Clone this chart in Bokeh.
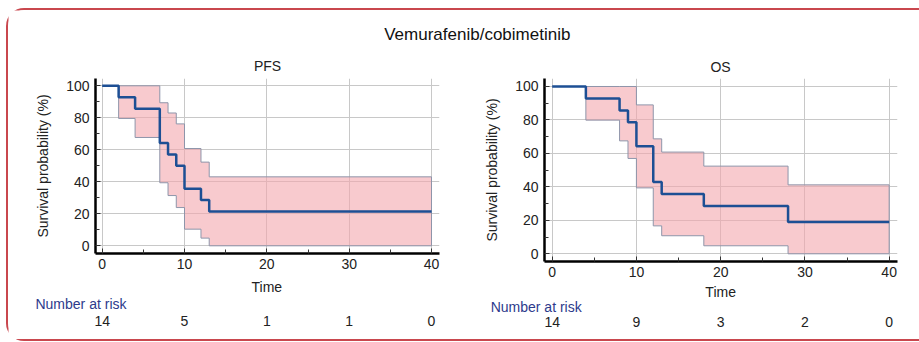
from bokeh.plotting import figure
from bokeh.models import Range1d, FixedTicker, Label
from bokeh.layouts import column, row
from bokeh.embed import file_html
from bokeh.resources import INLINE

# ---------------- data ----------------
main_title = "Vemurafenib/cobimetinib"
t_end = 40

pfs_title = "PFS"
pfs_time = [0, 2, 4, 7, 8, 9, 10, 12, 13]
pfs_surv = [100, 92.9, 85.7, 64.3, 57.1, 50.0, 35.7, 28.6, 21.4]
pfs_ci_time = [2, 4, 7, 8, 9, 10, 12, 13]
pfs_ci_upper = [100, 100, 89.4, 83.0, 76.2, 60.8, 52.3, 43.1]
pfs_ci_lower = [79.6, 67.7, 39.4, 31.4, 23.9, 10.4, 4.8, 0]
pfs_risk = ["14", "5", "1", "1", "0"]

os_title = "OS"
os_time = [0, 4, 8, 9, 10, 12, 13, 18, 28]
os_surv = [100, 92.9, 85.7, 78.6, 64.3, 42.9, 35.7, 28.6, 19.0]
os_ci_time = [4, 8, 9, 10, 12, 13, 18, 28]
os_ci_upper = [100, 100, 100, 89.0, 68.7, 60.8, 52.4, 41.2]
os_ci_lower = [79.9, 67.5, 57.0, 39.4, 16.7, 10.8, 4.8, 0]
os_risk = ["14", "9", "3", "2", "0"]

risk_times = [0, 10, 20, 30, 40]
x_ticks = [0, 10, 20, 30, 40]
x_minor = [5, 15, 25, 35]
y_ticks = [0, 20, 40, 60, 80, 100]
y_minor = [10, 30, 50, 70, 90]

FONT = "Liberation Sans"
CURVE = "#1d4f94"
BAND_FILL = "#f4a6ad"
BAND_LINE = "#8e95aa"
NAVY = "#2d3a8c"
TXT = "#222222"


def step_xy(t, v, end):
    xs, ys = [], []
    for i in range(len(t)):
        x1 = t[i + 1] if i + 1 < len(t) else end
        xs += [t[i], x1]
        ys += [v[i], v[i]]
    return xs, ys


def blank(width, height, xr, yr):
    f = figure(width=width, height=height, x_range=Range1d(*xr), y_range=Range1d(*yr),
               x_axis_type=None, y_axis_type=None, toolbar_location=None,
               output_backend="svg", min_border_left=0, min_border_right=0,
               min_border_top=0, min_border_bottom=0, frame_align=False)
    f.grid.visible = False
    f.outline_line_color = None
    return f


def txt(x, y, text, size="14px", color=TXT, align="center"):
    return Label(x=x, y=y, text=text, text_align=align, text_baseline="middle",
                 text_font=FONT, text_font_size=size, text_color=color)


def panel(t, s, ci_t, ci_u, ci_l, risk, width, height, mb, frame_w, xr, yr,
          risk_h, time_off, nar_x, nar_off, num_off):
    p = figure(width=width, height=height, x_range=Range1d(*xr), y_range=Range1d(*yr),
               toolbar_location=None, output_backend="svg", frame_align=False,
               min_border_left=mb[0], min_border_right=mb[1],
               min_border_top=mb[2], min_border_bottom=mb[3])
    p.outline_line_color = None

    ux, uy = step_xy(ci_t, ci_u, t_end)
    lx, ly = step_xy(ci_t, ci_l, t_end)
    p.patch(ux + lx[::-1], uy + ly[::-1], fill_color=BAND_FILL, fill_alpha=0.6,
            line_color=BAND_LINE, line_width=1)
    cx, cy = step_xy(t, s, t_end)
    p.line(cx, cy, line_color=CURVE, line_width=2.5)

    p.xaxis.ticker = FixedTicker(ticks=x_ticks, minor_ticks=x_minor)
    p.yaxis.ticker = FixedTicker(ticks=y_ticks, minor_ticks=y_minor)
    p.yaxis.axis_label = "Survival probability (%)"
    for ax in (p.xaxis[0], p.yaxis[0]):
        ax.axis_line_color = "black"
        ax.axis_line_width = 2.5
        ax.major_tick_in = 5
        ax.major_tick_out = 0
        ax.minor_tick_in = 4
        ax.minor_tick_out = 0
        ax.major_tick_line_color = "#333333"
        ax.minor_tick_line_color = "#333333"
        ax.major_label_text_font = FONT
        ax.major_label_text_font_size = "14px"
        ax.major_label_text_color = TXT
        ax.axis_label_text_font = FONT
        ax.axis_label_text_font_size = "14px"
        ax.axis_label_text_font_style = "normal"
        ax.axis_label_text_color = TXT
    p.yaxis.major_label_standoff = 6
    p.yaxis.axis_label_standoff = 12
    p.xaxis.major_label_standoff = 5
    p.grid.grid_line_color = "#c8c8c8"
    p.grid.grid_line_width = 1

    # number-at-risk strip sharing the same x scale
    scale = frame_w / (xr[1] - xr[0])
    rx = (xr[0] - mb[0] / scale, xr[1] + mb[1] / scale)
    r = blank(width, risk_h, rx, (0, risk_h))
    r.add_layout(txt(20, risk_h - time_off, "Time"))
    r.add_layout(txt(nar_x, risk_h - nar_off, "Number at risk", color=NAVY, align="left"))
    for rt, rv in zip(risk_times, risk):
        r.add_layout(txt(rt, risk_h - num_off, rv))
    return column(p, r)


left = panel(pfs_time, pfs_surv, pfs_ci_time, pfs_ci_upper, pfs_ci_lower, pfs_risk,
             452, 203, (87, 21, 4, 24), 344, (-0.81, 40.97), (-4.81, 104.56),
             62, 9.3, -8.1, 26, 43)
right = panel(os_time, os_surv, os_ci_time, os_ci_upper, os_ci_lower, os_risk,
              459, 209, (84, 22, 4, 22), 353, (-0.91, 40.99), (-4.6, 104.78),
              56, 8.7, -7.3, 23, 38.7)

top = blank(911, 64, (0, 911), (0, 64))
top.add_layout(txt(468.8, 40, main_title, size="17px", color="#111111"))
top.add_layout(txt(259, 9, pfs_title))
top.add_layout(txt(712, 7.3, os_title))

page = column(top, row(left, right), styles={
    "margin-left": "6px",
    "margin-top": "8px",
    "border-left": "2px solid #c9474e",
    "border-top": "2px solid #c9474e",
    "border-bottom": "2px solid #c9474e",
    "border-top-left-radius": "18px",
    "border-bottom-left-radius": "18px",
    "background": "white",
})

open("out.html", "w").write(file_html(page, INLINE))
